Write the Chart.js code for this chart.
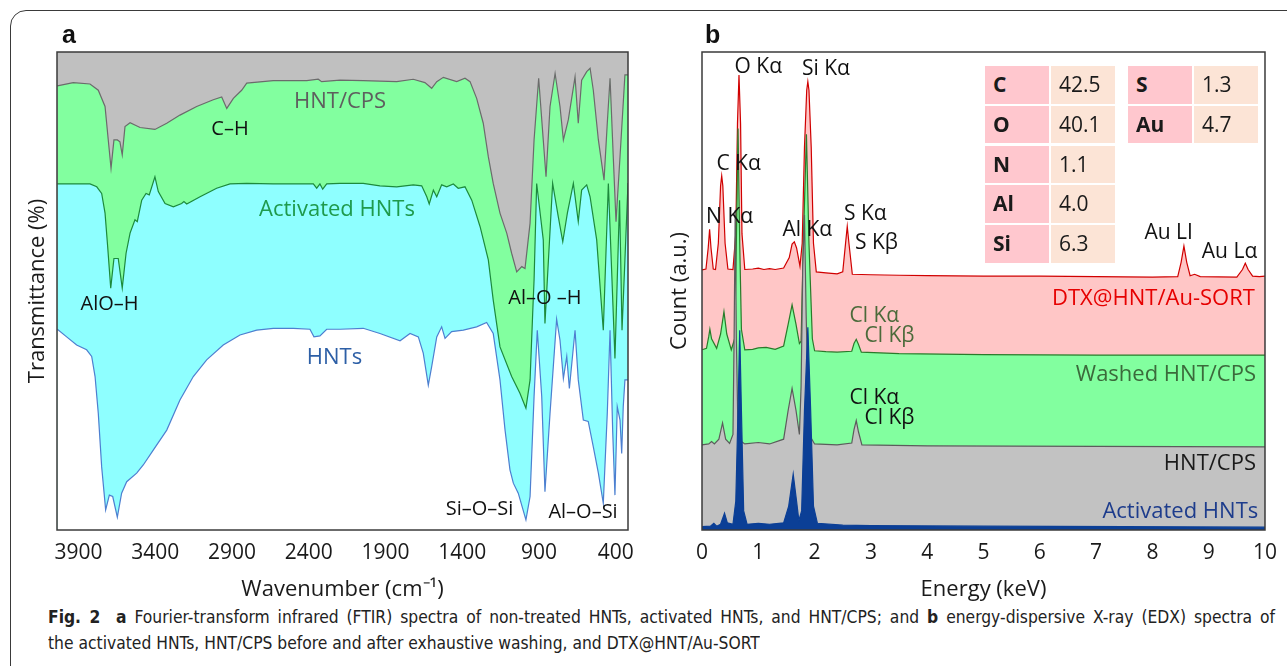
<!DOCTYPE html>
<html><head><meta charset="utf-8">
<script src="https://cdn.jsdelivr.net/npm/chart.js@4.4.0/dist/chart.umd.min.js"></script>
<style>
html,body{margin:0;padding:0;background:#fff;width:1287px;height:666px;overflow:hidden;font-family:'Open Sans',sans-serif;}
#frame{position:absolute;left:10px;top:10px;width:1320px;height:720px;border:1px solid #3a3a3a;border-radius:16px;}
canvas{position:absolute;top:0;}
#ca{left:0;}
#cb{left:650px;}
.plab{position:absolute;font-family:'Liberation Sans',Arial,sans-serif;font-weight:bold;font-size:25px;line-height:25px;color:#111;}
.cell{position:absolute;box-sizing:border-box;font-size:21px;padding-left:8px;color:#1a1a1a;font-family:'Open Sans',sans-serif;}
.cap{position:absolute;left:48px;white-space:nowrap;font-family:'Liberation Sans Narrow','DejaVu Sans Condensed','Liberation Sans',sans-serif;font-size:18px;line-height:20px;color:#222;transform-origin:0 50%;}
</style></head>
<body>
<div id="frame"></div>
<canvas id="ca" width="650" height="605"></canvas>
<canvas id="cb" width="637" height="605"></canvas>
<div class="plab" style="left:62px;top:22px;">a</div>
<div class="plab" style="left:705px;top:22px;">b</div>
<div id="table"></div>
<div class="cap" id="cap1" style="top:607px;"><b>Fig. 2</b>&nbsp; <b>a</b> Fourier-transform infrared (FTIR) spectra of non-treated HNTs, activated HNTs, and HNT/CPS; and <b>b</b> energy-dispersive X-ray (EDX) spectra of</div>
<div class="cap" id="cap2" style="top:633px;">the activated HNTs, HNT/CPS before and after exhaustive washing, and DTX@HNT/Au-SORT</div>
<script>
// ---------- Panel a: FTIR ----------
const wnTicks = [3900, 3400, 2900, 2400, 1900, 1400, 900, 400];

const hntCpsWn = [4038,3934,3825,3771,3727,3706,3688,3669,3647,3630,3615,3597,3564,3499,3402,3325,3239,3130,3022,2967,2934,2891,2837,2804,2631,2413,2338,2316,2196,2045,1827,1719,1643,1599,1566,1523,1436,1382,1349,1306,1263,1230,1198,1154,1110,1078,1045,1012,991,958,932,902,872,854,828,795,763,741,709,665,644,622,589,567,546,513,476,455,437,416,398,372,340,320];
const hntCpsT = [92.9,93.6,93.3,92.0,88.6,81.6,75.7,81.6,81.6,81.2,78.5,84.4,85.2,84.2,83.8,85.1,86.8,88.6,90.0,90.6,88.2,90.3,92.0,93.5,94.0,94.0,94.3,93.8,94.1,94.0,93.8,94.3,93.6,92.4,93.8,94.7,93.8,94.5,93.8,90.3,85.1,78.1,72.5,66.3,62.1,57.9,54.0,55.1,54.7,64.2,81.6,94.5,81.6,73.9,88.6,95.5,88.6,81.6,85.8,94.8,85.1,94.1,95.9,96.6,92.0,81.6,73.2,85.1,94.5,78.1,64.5,78.1,95.2,95.2];

const activatedWn = [4038,3934,3825,3781,3749,3727,3710,3690,3669,3641,3615,3590,3564,3532,3517,3488,3460,3439,3402,3380,3336,3282,3228,3213,3195,3108,3000,2913,2804,2631,2370,2348,2327,2309,2283,2196,2045,1936,1827,1719,1664,1631,1615,1588,1566,1534,1501,1458,1426,1382,1338,1284,1230,1198,1154,1078,1024,985,958,941,932,915,872,861,811,774,745,715,676,644,622,589,567,524,481,448,405,375,359,340,320];
const activatedT = [72.4,72.4,72.4,71.8,70.4,66.3,59.3,50.6,56.8,56.8,50.6,57.9,62.1,64.9,64.5,69.0,70.4,70.1,73.9,70.8,68.3,67.6,68.3,68.7,68.2,69.7,71.5,72.4,72.5,72.4,72.4,71.5,72.4,71.3,72.4,72.5,72.5,72.0,71.8,72.2,72.0,69.7,68.2,71.1,69.7,72.2,71.8,72.4,71.5,71.8,69.0,63.5,56.5,48.1,38.3,32.1,28.6,25.5,31.4,45.3,52.3,72.5,60.7,43.2,72.5,65.5,60.3,66.3,72.5,64.5,71.1,72.2,69.7,60.7,41.8,72.5,35.9,69.0,41.8,56.5,72.6];

const hntsWn = [4038,3977,3912,3847,3814,3792,3771,3749,3723,3699,3677,3647,3619,3586,3521,3478,3413,3325,3239,3152,3065,2957,2848,2739,2631,2500,2392,2366,2327,2283,2196,2045,1936,1805,1740,1686,1654,1621,1599,1566,1534,1512,1469,1393,1306,1241,1198,1154,1121,1089,1067,1035,985,958,932,911,882,861,828,785,763,741,719,702,665,644,611,579,546,513,481,455,437,420,405,390,372,361,351,340,320];
const hntsT = [42.0,40.4,38.7,37.7,36.3,32.1,24.4,13.2,4.2,7.3,7.0,2.7,7.7,10.1,11.9,13.6,16.7,20.9,27.2,32.1,35.6,38.7,40.8,41.8,42.2,42.2,42.0,40.4,40.6,42.0,42.0,42.2,41.1,39.6,41.1,40.4,37.0,30.3,34.2,40.4,42.5,40.1,41.5,41.8,42.5,43.4,41.1,31.4,20.9,12.6,9.8,7.7,2.1,7.0,27.9,41.8,27.9,8.0,24.4,44.1,39.7,31.7,36.3,29.6,41.8,31.4,23.0,22.7,17.4,11.9,5.6,24.4,41.8,20.9,7.3,25.8,23.0,16.0,25.8,31.4,31.4];

// ---------- Panel b: EDX ----------
const keVTicks = [0,1,2,3,4,5,6,7,8,9,10];

const dtxKeV = [0,0.07,0.11,0.135,0.16,0.2,0.24,0.29,0.33,0.35,0.37,0.41,0.46,0.55,0.6,0.63,0.657,0.685,0.71,0.76,0.9,1.0,1.1,1.2,1.3,1.45,1.55,1.6,1.64,1.68,1.74,1.78,1.82,1.86,1.88,1.9,1.94,1.98,2.03,2.2,2.4,2.5,2.55,2.58,2.61,2.67,3.0,3.5,4.0,5.0,6.0,7.0,8.0,8.45,8.51,8.56,8.61,8.67,8.75,8.85,9.5,9.6,9.65,9.7,9.78,9.9,10];
const dtxCount = [544,546,590,629,590,546,545,600,720,741,720,600,546,545,620,850,952,850,620,545,546,548,545,547,545,548,570,598,603,590,552,600,800,920,938,920,800,600,540,538,536,540,600,635,600,535,534,533,532,531,531,530,529,530,560,594,560,532,535,530,529,545,558,545,531,530,531];

const washedKeV = [0,0.08,0.12,0.14,0.17,0.26,0.33,0.39,0.44,0.52,0.58,0.61,0.64,0.67,0.7,0.76,0.9,1.0,1.14,1.3,1.45,1.53,1.6,1.67,1.73,1.76,1.8,1.855,1.9,1.96,2.0,2.2,2.4,2.66,2.7,2.74,2.78,2.83,3.5,5.0,7.0,10];
const washedCount = [377,380,405,420,400,380,410,457,410,377,400,600,840,600,420,377,378,381,382,378,385,430,471,430,390,395,600,828,600,400,375,373,372,374,390,399,388,372,369,367,366,366];

const cpsKeV = [0,0.12,0.17,0.22,0.3,0.365,0.42,0.49,0.55,0.57,0.59,0.61,0.64,0.7,0.76,1.0,1.2,1.45,1.53,1.6,1.67,1.73,1.76,1.79,1.82,1.85,1.9,2.0,2.4,2.66,2.7,2.74,2.78,2.84,4,10];
const cpsCount = [178,180,185,180,190,224,190,181,200,400,669,400,200,185,180,183,180,190,250,296,250,200,300,550,659,450,200,180,178,182,210,229,205,178,176,174];

const actKeV = [0,0.15,0.21,0.26,0.33,0.4,0.45,0.55,0.6,0.64,0.67,0.7,0.74,0.8,1.0,1.2,1.45,1.54,1.62,1.68,1.72,1.77,1.82,1.88,1.93,1.98,2.05,2.5,3,5,10];
const actCount = [7,8,14,8,12,35,15,12,60,250,418,250,40,12,14,12,15,50,117,60,20,40,250,424,250,50,14,10,9,8,6];

// composition table (DTX@HNT/Au-SORT)
const elemsLeft = ['C','O','N','Al','Si'];
const pctLeft = [42.5,40.1,1.1,4.0,6.3];
const elemsRight = ['S','Au'];
const pctRight = [1.3,4.7];

// ---------- helpers ----------
const FONT = "'Open Sans', sans-serif";
function pts(xs, ys){ return xs.map((x,i)=>({x:x, y:ys[i]})); }

function framePlugin(bg){
  return {
    id:'frame',
    beforeDatasetsDraw(chart){
      if(!bg) return;
      const {ctx, chartArea:a} = chart;
      ctx.save(); ctx.fillStyle = bg; ctx.fillRect(a.left, a.top, a.right-a.left, a.bottom-a.top); ctx.restore();
    },
    afterDraw(chart){
      const {ctx, chartArea:a} = chart;
      ctx.save(); ctx.strokeStyle = '#3b3b3b'; ctx.lineWidth = 1.5;
      ctx.strokeRect(a.left, a.top, a.right-a.left, a.bottom-a.top); ctx.restore();
    }
  };
}
function labelPlugin(items){
  return {
    id:'peaklabels',
    afterDatasetsDraw(chart){
      const {ctx, scales:{x, y}} = chart;
      ctx.save();
      ctx.textBaseline = 'middle';
      items.forEach(it=>{
        ctx.font = (it.size||20) + 'px ' + FONT;
        ctx.fillStyle = it.color || '#111';
        ctx.textAlign = it.align || 'center';
        ctx.fillText(it.text, x.getPixelForValue(it.x), y.getPixelForValue(it.y));
      });
      ctx.restore();
    }
  };
}
function line(data, stroke, fillColor, order){
  return {data:data, borderColor:stroke, backgroundColor:fillColor, fill:'start', order:order,
          borderWidth:1.2, pointRadius:0, tension:0};
}
function xAxis(min, max, reverse, tickVals, title){
  return {
    type:'linear', min:min, max:max, reverse:reverse,
    afterBuildTicks: s => { s.ticks = tickVals.map(v=>({value:v})); },
    afterFit: s => { s.height = 75; },
    grid:{display:false, drawTicks:false}, border:{display:false},
    ticks:{font:{family:FONT, size:21}, color:'#1a1a1a', padding:10, maxRotation:0, autoSkip:false, callback:v=>String(v)},
    title:{display:true, text:title, font:{family:FONT, size:22}, color:'#1a1a1a', padding:{top:0, bottom:2}}
  };
}
function yAxis(min, max, width, title, pad){
  return {
    type:'linear', min:min, max:max,
    afterFit: s => { s.width = width; },
    grid:{display:false, drawTicks:false}, border:{display:false},
    ticks:{display:false},
    title:{display:true, text:title, font:{family:FONT, size:22}, color:'#1a1a1a', padding:{top:pad, bottom:0}}
  };
}

// ---------- chart a ----------
const labelsA = [
  {text:'HNT/CPS', x:2196, y:89.5, size:22, color:'#5e5e5e'},
  {text:'C–H', x:2913, y:83.9, size:20, color:'#111'},
  {text:'Activated HNTs', x:2216, y:66.9, size:22, color:'#1f9a4c'},
  {text:'AlO–H', x:3698, y:47.3, size:20, color:'#111'},
  {text:'Al–O –H', x:861, y:48.5, size:20, color:'#111'},
  {text:'HNTs', x:2232, y:36.0, size:22, color:'#2d5fa6'},
  {text:'Si–O–Si', x:1287, y:4.4, size:20, color:'#111'},
  {text:'Al–O–Si', x:613, y:3.8, size:20, color:'#111'}
];
new Chart(document.getElementById('ca'), {
  type:'line',
  data:{datasets:[
    line(pts(hntCpsWn, hntCpsT), '#6b6b6b', '#82ff9f', 3),
    line(pts(activatedWn, activatedT), '#1d8a3c', '#8effff', 2),
    line(pts(hntsWn, hntsT), '#4d7fd0', '#ffffff', 1)
  ]},
  options:{
    responsive:false, animation:false, events:[],
    layout:{padding:{left:0, top:52, right:22, bottom:0}},
    plugins:{legend:{display:false}, tooltip:{enabled:false}},
    scales:{
      x: xAxis(320, 4040, true, wnTicks, 'Wavenumber (cm⁻¹)'),
      y: yAxis(0, 100, 57, 'Transmittance (%)', 25)
    }
  },
  plugins:[framePlugin('#c0c0c0'), labelPlugin(labelsA)]
});

// ---------- chart b ----------
const labelsB = [
  {text:'O Kα', x:1.00, y:969, size:21},
  {text:'Si Kα', x:2.20, y:964, size:21},
  {text:'C Kα', x:0.65, y:766, size:21},
  {text:'N Kα', x:0.49, y:655, size:21},
  {text:'Al Kα', x:1.87, y:628, size:21},
  {text:'S Kα', x:2.90, y:661, size:21},
  {text:'S Kβ', x:3.10, y:600, size:21},
  {text:'Au LI', x:8.29, y:621, size:21},
  {text:'Au Lα', x:9.37, y:582, size:21},
  {text:'DTX@HNT/Au-SORT', x:9.82, y:483, size:22, color:'#e60000', align:'right'},
  {text:'Cl Kα', x:3.06, y:448, size:21, color:'#4b6a3a'},
  {text:'Cl Kβ', x:3.33, y:406, size:21, color:'#4b6a3a'},
  {text:'Washed HNT/CPS', x:9.84, y:324, size:22, color:'#3b6a3b', align:'right'},
  {text:'Cl Kα', x:3.06, y:276, size:21},
  {text:'Cl Kβ', x:3.33, y:234, size:21},
  {text:'HNT/CPS', x:9.84, y:138, size:22, color:'#1a1a1a', align:'right'},
  {text:'Activated HNTs', x:9.88, y:38, size:22, color:'#1d3c8c', align:'right'}
];
new Chart(document.getElementById('cb'), {
  type:'line',
  data:{datasets:[
    line(pts(dtxKeV, dtxCount), '#d00000', '#ffc6c6', 4),
    line(pts(washedKeV, washedCount), '#2a7a2a', '#82ff9f', 3),
    line(pts(cpsKeV, cpsCount), '#5c5c5c', '#c2c2c2', 2),
    line(pts(actKeV, actCount), '#0b3f96', '#0b3f96', 1)
  ]},
  options:{
    responsive:false, animation:false, events:[],
    layout:{padding:{left:0, top:52, right:17, bottom:0}},
    plugins:{legend:{display:false}, tooltip:{enabled:false}},
    scales:{
      x: xAxis(0, 10, false, keVTicks, 'Energy (keV)'),
      y: yAxis(0, 1000, 52, 'Count (a.u.)', 17)
    }
  },
  plugins:[framePlugin(null), labelPlugin(labelsB)]
});

// ---------- composition table ----------
(function(){
  const t = document.getElementById('table');
  const colL = [985, 1051, 1128, 1194], rowT = [66, 105.8, 145.6, 185.4, 225.2];
  function cell(x, y, txt, bg, bold){
    const d = document.createElement('div');
    d.className = 'cell';
    d.style.cssText = 'left:'+x+'px;top:'+y+'px;width:64px;height:37.5px;line-height:37.5px;background:'+bg+';font-weight:'+(bold?'700':'400')+';';
    d.textContent = txt; t.appendChild(d);
  }
  elemsLeft.forEach((e,i)=>{ cell(colL[0], rowT[i], e, '#ffc7ce', true); cell(colL[1], rowT[i], pctLeft[i].toFixed(1), '#fce4d6', false); });
  elemsRight.forEach((e,i)=>{ cell(colL[2], rowT[i], e, '#ffc7ce', true); cell(colL[3], rowT[i], pctRight[i].toFixed(1), '#fce4d6', false); });
})();

// ---------- caption: condensed, first line justified ----------
(function(){
  const l1 = document.getElementById('cap1'), l2 = document.getElementById('cap2');
  const w1 = l1.getBoundingClientRect().width, w2 = l2.getBoundingClientRect().width;
  const s1 = 1227 / w1, s2 = 597 / w2;
  const s = 0.75 * s1 + 0.25 * s2;
  l2.style.transform = 'scaleX(' + s + ')';
  const n = (l1.textContent.match(/[ \u00a0]/g) || []).length;
  l1.style.wordSpacing = ((1227 / s - w1) / n) + 'px';
  l1.style.transform = 'scaleX(' + s + ')';
})();
</script>
</body></html>
